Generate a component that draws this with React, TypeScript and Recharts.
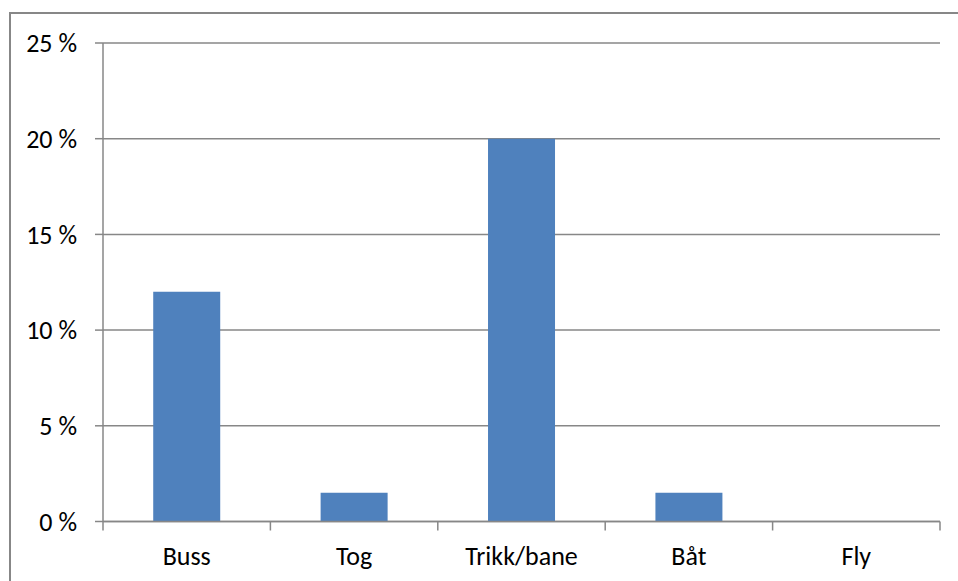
import React from 'react';
import { BarChart, Bar, XAxis, YAxis, CartesianGrid } from 'recharts';

const categories = ['Buss', 'Tog', 'Trikk/bane', 'Båt', 'Fly'];
const shares = [12, 1.5, 20, 1.5, 0];
const yTicks = [0, 5, 10, 15, 20, 25];

const data = categories.map((name, i) => ({ name, share: shares[i] }));

const GREY = '#878787';
const FONT = 'Calibri, Carlito, Lato, sans-serif';
const FONT_SIZE = 26;
const X_TICK_SIZE = 0;
const X_TICK_MARGIN = 0;

// category label centred in its band, with tick marks on the band edges
const CategoryTick = (props: any) => {
  const { x, y, payload, width, index } = props;
  const half = width / categories.length / 2;
  const axisY = y - X_TICK_SIZE - X_TICK_MARGIN;
  const isLast = index === categories.length - 1;
  return (
    <g>
      <line x1={x - half} x2={x - half} y1={axisY} y2={axisY + 9} stroke={GREY} strokeWidth={1.5} />
      {isLast && (
        <line x1={x + half} x2={x + half} y1={axisY} y2={axisY + 9} stroke={GREY} strokeWidth={1.5} />
      )}
      <text x={x} y={axisY + 43.5} textAnchor="middle" fill="#000" fontSize={FONT_SIZE} fontFamily={FONT}>
        {payload.value}
      </text>
    </g>
  );
};

export default function App() {
  return (
    <div style={{ position: 'absolute', left: 0, top: 0, width: 958, height: 581, overflow: 'hidden', background: '#fff' }}>
      <div
        style={{
          position: 'absolute',
          left: 9,
          top: 12,
          width: 980,
          height: 600,
          borderLeft: `2px solid ${GREY}`,
          borderTop: `2px solid ${GREY}`,
        }}
      />
      <div style={{ position: 'absolute', left: 0, top: 0 }}>
        <BarChart
          width={958}
          height={581}
          data={data}
          margin={{ top: 43, right: 18, bottom: 29.5, left: 0 }}
          barCategoryGap="30%"
        >
          <CartesianGrid vertical={false} stroke={GREY} strokeWidth={1.5} />
          <XAxis
            dataKey="name"
            height={30}
            axisLine={{ stroke: GREY, strokeWidth: 1.5 }}
            tickLine={false}
            tickSize={X_TICK_SIZE}
            tickMargin={X_TICK_MARGIN}
            tick={<CategoryTick />}
            interval={0}
          />
          <YAxis
            width={103}
            domain={[0, 25]}
            ticks={yTicks}
            tickFormatter={(v: number) => `${v} %`}
            axisLine={{ stroke: GREY, strokeWidth: 1.5 }}
            tickLine={{ stroke: GREY, strokeWidth: 1.5 }}
            tickSize={8}
            tickMargin={18}
            tick={{ fill: '#000', fontSize: FONT_SIZE, fontFamily: FONT }}
            interval={0}
          />
          <Bar dataKey="share" fill="#4F81BD" isAnimationActive={false} />
        </BarChart>
      </div>
    </div>
  );
}
